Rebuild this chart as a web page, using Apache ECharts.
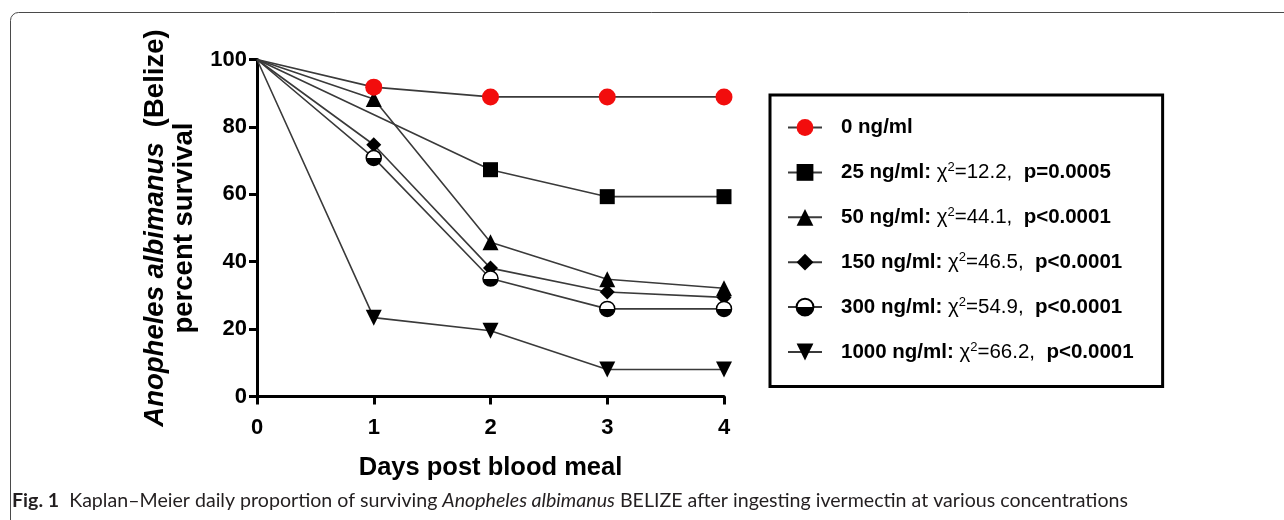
<!DOCTYPE html>
<html>
<head>
<meta charset="utf-8">
<script src="https://cdn.jsdelivr.net/npm/echarts@6/dist/echarts.min.js"></script>
<style>
  html, body { margin: 0; padding: 0; background: #fff; }
  #chart { width: 1284px; height: 520px; }
</style>
</head>
<body>
<div id="chart"></div>
<script>
// ---- data ----
const days = [0, 1, 2, 3, 4];
const yTicks = [0, 20, 40, 60, 80, 100];
const xTicks = [0, 1, 2, 3, 4];
const seriesNames = ['0 ng/ml', '25 ng/ml', '50 ng/ml', '150 ng/ml', '300 ng/ml', '1000 ng/ml'];
const surv0    = [100, 91.8, 88.9, 88.9, 88.9];
const surv25   = [100, null, 67.3, 59.3, 59.3];
const surv50   = [100, 88.3, 45.8, 34.8, 32.1];
const surv150  = [100, 74.7, 38.1, 31.0, 29.4];
const surv300  = [100, 70.8, 35.0, 26.0, 26.0];
const surv1000 = [100, 23.4, 19.5, 8.0, 8.0];
const chiSq   = [null, '12.2', '44.1', '46.5', '54.9', '66.2'];
const pValues = [null, 'p=0.0005', 'p<0.0001', 'p<0.0001', 'p<0.0001', 'p<0.0001'];
const xTitle = 'Days post blood meal';
const yTitleItalic = 'Anopheles albimanus';
const yTitleRest = '  (Belize)';
const yTitle2 = 'percent survival';

const chart = echarts.init(document.getElementById('chart'), null, { renderer: 'canvas' });

function pairs(vals) {
  return days.map((d, i) => {
    const v = vals[i];
    if (i === 0) return { value: [d, v], symbol: 'none' };
    return v === null ? [d, null] : [d, v];
  });
}

const lineCol = '#3a3a3a';
const halfFill = new echarts.graphic.LinearGradient(0, 0, 0, 1, [
  { offset: 0, color: '#ffffff' }, { offset: 0.5, color: '#ffffff' },
  { offset: 0.5, color: '#000000' }, { offset: 1, color: '#000000' }
]);

const styles = [
  { symbol: 'circle', size: 17, color: '#f20d0d' },
  { symbol: 'rect', size: 15, color: '#000' },
  { symbol: 'triangle', size: 16, color: '#000' },
  { symbol: 'diamond', size: 15, color: '#000' },
  { symbol: 'circle', size: 15, color: halfFill, border: true },
  { symbol: 'triangle', size: 16, color: '#000', rotate: 180 }
];
const allVals = [surv0, surv25, surv50, surv150, surv300, surv1000];

const series = allVals.map((vals, k) => {
  const st = styles[k];
  const s = {
    name: seriesNames[k],
    type: 'line',
    data: pairs(vals),
    connectNulls: true,
    symbol: st.symbol,
    symbolSize: st.size,
    showAllSymbol: true,
    lineStyle: { color: lineCol, width: 1.6 },
    itemStyle: { color: st.color, opacity: 1 },
    emphasis: { disabled: true },
    animation: false,
    z: k === 0 ? 5 : 3
  };
  if (st.rotate) s.symbolRotate = st.rotate;
  if (st.border) { s.itemStyle.borderColor = '#000'; s.itemStyle.borderWidth = 1.5; }
  return s;
});

function legendFmt(name) {
  const k = seriesNames.indexOf(name);
  if (k === 0) return '{sp|}{b|' + name + '}';
  return '{sp|}{b|' + name + ':}{n| \u03C7}{sup|2}{n|=' + chiSq[k] + ',  }{b|' + pValues[k] + '}';
}

const axisFont = 'Liberation Sans, Arial, sans-serif';
const capFont = 'Lato';
const CF = 19.6;
const LF = 20.5;

const option = {
  backgroundColor: '#fff',
  animation: false,
  title: {
    left: 12,
    top: 490,
    padding: 0,
    text: '{b|Fig. 1}{n|  Kaplan\u2013Meier daily proportion of surviving }{i|Anopheles albimanus}{n| BELIZE after ingesting ivermectin at various concentrations}',
    textStyle: {
      fontWeight: 'normal',
      rich: {
        b: { fontFamily: capFont, fontWeight: 'bold', fontSize: CF, color: '#231f20', lineHeight: 21 },
        n: { fontFamily: capFont, fontWeight: 'normal', fontSize: CF, color: '#231f20', lineHeight: 21 },
        i: { fontFamily: capFont, fontWeight: 'normal', fontStyle: 'italic', fontSize: CF, color: '#231f20', lineHeight: 21 }
      }
    }
  },
  legend: {
    orient: 'vertical',
    left: 770,
    top: 95,
    padding: [22, 29, 24, 17],
    borderColor: '#000',
    borderWidth: 3,
    itemWidth: 34,
    itemHeight: 21,
    itemGap: 23.4,
    selectedMode: false,
    data: seriesNames,
    formatter: legendFmt,
    textStyle: {
      fontFamily: axisFont,
      fontSize: LF,
      color: '#000',
      rich: {
        sp: { width: 14 },
        b: { fontFamily: axisFont, fontWeight: 'bold', fontSize: LF, color: '#000', lineHeight: 22 },
        n: { fontFamily: axisFont, fontWeight: 'normal', fontSize: LF, color: '#000', lineHeight: 22 },
        sup: { fontFamily: axisFont, fontWeight: 'normal', fontSize: 13, color: '#000', lineHeight: 13, verticalAlign: 'top' }
      }
    }
  },
  grid: { left: 257, top: 59.5, width: 467, height: 337, containLabel: false },
  xAxis: {
    type: 'value',
    min: xTicks[0], max: xTicks[xTicks.length - 1], interval: 1,
    name: xTitle,
    nameLocation: 'middle',
    nameGap: 58,
    nameTextStyle: { fontFamily: axisFont, fontWeight: 'bold', fontSize: 25.5, color: '#000' },
    axisLine: { onZero: false, lineStyle: { color: '#000', width: 3 } },
    axisTick: { show: true, length: 8, lineStyle: { color: '#000', width: 3 } },
    axisLabel: { margin: 20, fontFamily: axisFont, fontWeight: 'bold', fontSize: 22, color: '#000' },
    splitLine: { show: false }
  },
  yAxis: {
    type: 'value',
    min: yTicks[0], max: yTicks[yTicks.length - 1], interval: 20,
    name: '{i|' + yTitleItalic + '}{b|' + yTitleRest + '}\n{b|' + yTitle2 + '}',
    nameLocation: 'middle',
    nameRotate: 90,
    nameGap: 58,
    nameTextStyle: {
      align: 'center',
      rich: {
        i: { fontFamily: axisFont, fontWeight: 'bold', fontStyle: 'italic', fontSize: 27.5, color: '#000', lineHeight: 29 },
        b: { fontFamily: axisFont, fontWeight: 'bold', fontSize: 27.5, color: '#000', lineHeight: 29 }
      }
    },
    axisLine: { show: true, lineStyle: { color: '#000', width: 3 } },
    axisTick: { show: true, length: 8, lineStyle: { color: '#000', width: 3 } },
    axisLabel: { margin: 10, fontFamily: axisFont, fontWeight: 'bold', fontSize: 22, color: '#000' },
    splitLine: { show: false }
  },
  graphic: [{
    type: 'rect',
    silent: true,
    z: -10,
    shape: { x: 10.5, y: 12.5, width: 1400, height: 700, r: 8 },
    style: { fill: 'none', stroke: '#4a4a4a', lineWidth: 1 }
  }],
  series: series
};

chart.setOption(option);
</script>
</body>
</html>
